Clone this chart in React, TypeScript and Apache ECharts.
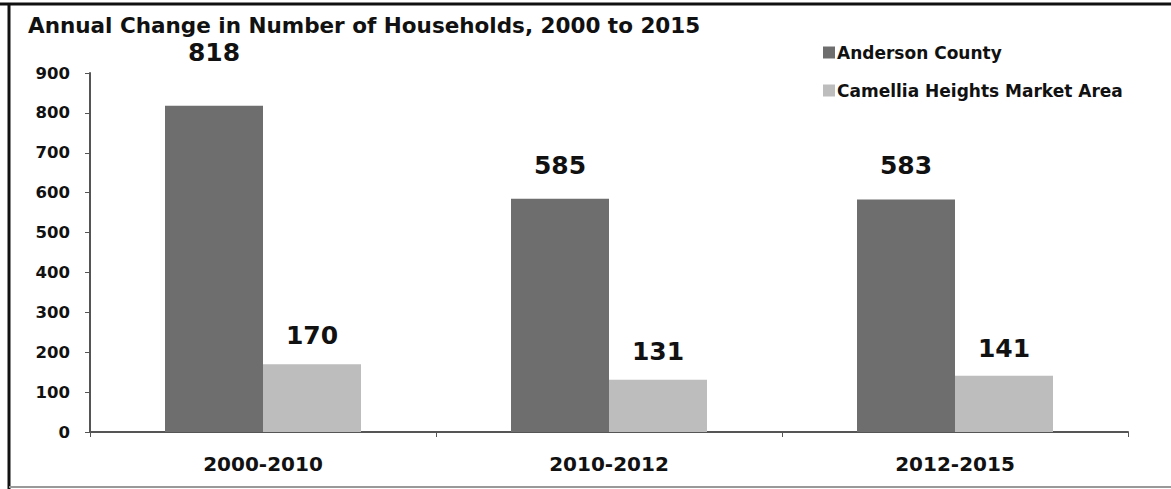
import React, { useEffect, useRef } from "react";
import * as echarts from "echarts";

const categories = ["2000-2010", "2010-2012", "2012-2015"];
const andersonCounty = [818, 585, 583];
const camelliaHeights = [170, 131, 141];
const yTicks = [0, 100, 200, 300, 400, 500, 600, 700, 800, 900];

const andersonLabelGap = [41, 21, 21];
const camelliaLabelGap = [16, 16, 15];

const FONT = "'DejaVu Sans', sans-serif";

export default function App() {
  const ref = useRef<HTMLDivElement>(null);
  useEffect(() => {
    document.body.style.margin = "0";
    const chart = echarts.init(ref.current!, null, { renderer: "svg" });
    const labelBase = {
      show: true,
      position: "top",
      fontFamily: FONT,
      fontWeight: "bold",
      fontSize: 25,
      color: "#111",
    };
    chart.setOption({
      animation: false,
      backgroundColor: "#ffffff",
      title: {
        text: "Annual Change in Number of Households, 2000 to 2015",
        left: 23,
        top: 9,
        textStyle: { fontFamily: FONT, fontWeight: "bold", fontSize: 21.5, color: "#111" },
      },
      legend: {
        orient: "vertical",
        left: 818,
        top: 39,
        itemGap: 21,
        itemWidth: 12,
        itemHeight: 12,
        icon: "rect",
        textStyle: { fontFamily: FONT, fontWeight: "bold", fontSize: 17, color: "#111", padding: [0, 0, 0, -3] },
        data: ["Anderson County", "Camellia Heights Market Area"],
      },
      graphic: [
        { type: "line", shape: { x1: 0, y1: 4, x2: 1171, y2: 4 }, style: { stroke: "#111", lineWidth: 3 } },
        { type: "line", shape: { x1: 9, y1: 3, x2: 9, y2: 489 }, style: { stroke: "#111", lineWidth: 3 } },
        { type: "line", shape: { x1: 9, y1: 487, x2: 1171, y2: 487 }, style: { stroke: "#999", lineWidth: 2 } },
      ],
      grid: { left: 90, right: 43, top: 73, bottom: 57 },
      xAxis: {
        type: "category",
        data: categories,
        axisLine: { lineStyle: { color: "#555", width: 2 } },
        axisTick: { show: true, length: 5, lineStyle: { color: "#555" } },
        axisLabel: { fontFamily: FONT, fontWeight: "bold", fontSize: 20, color: "#111", margin: 22 },
      },
      yAxis: {
        type: "value",
        min: yTicks[0],
        max: yTicks[yTicks.length - 1],
        interval: 100,
        splitLine: { show: false },
        axisLine: { show: true, lineStyle: { color: "#555", width: 2 } },
        axisTick: { show: true, length: 5, lineStyle: { color: "#555" } },
        axisLabel: { fontFamily: FONT, fontWeight: "bold", fontSize: 16.5, color: "#111", margin: 20 },
      },
      series: [
        {
          name: "Anderson County",
          type: "bar",
          barWidth: 98,
          barGap: "0%",
          itemStyle: { color: "#6e6e6e" },
          label: labelBase,
          data: andersonCounty.map((v, i) => ({ value: v, label: { distance: andersonLabelGap[i] } })),
        },
        {
          name: "Camellia Heights Market Area",
          type: "bar",
          barWidth: 98,
          barGap: "0%",
          itemStyle: { color: "#bdbdbd" },
          label: labelBase,
          data: camelliaHeights.map((v, i) => ({ value: v, label: { distance: camelliaLabelGap[i] } })),
        },
      ],
    });
    return () => chart.dispose();
  }, []);
  return <div ref={ref} style={{ width: 1171, height: 489 }} />;
}
